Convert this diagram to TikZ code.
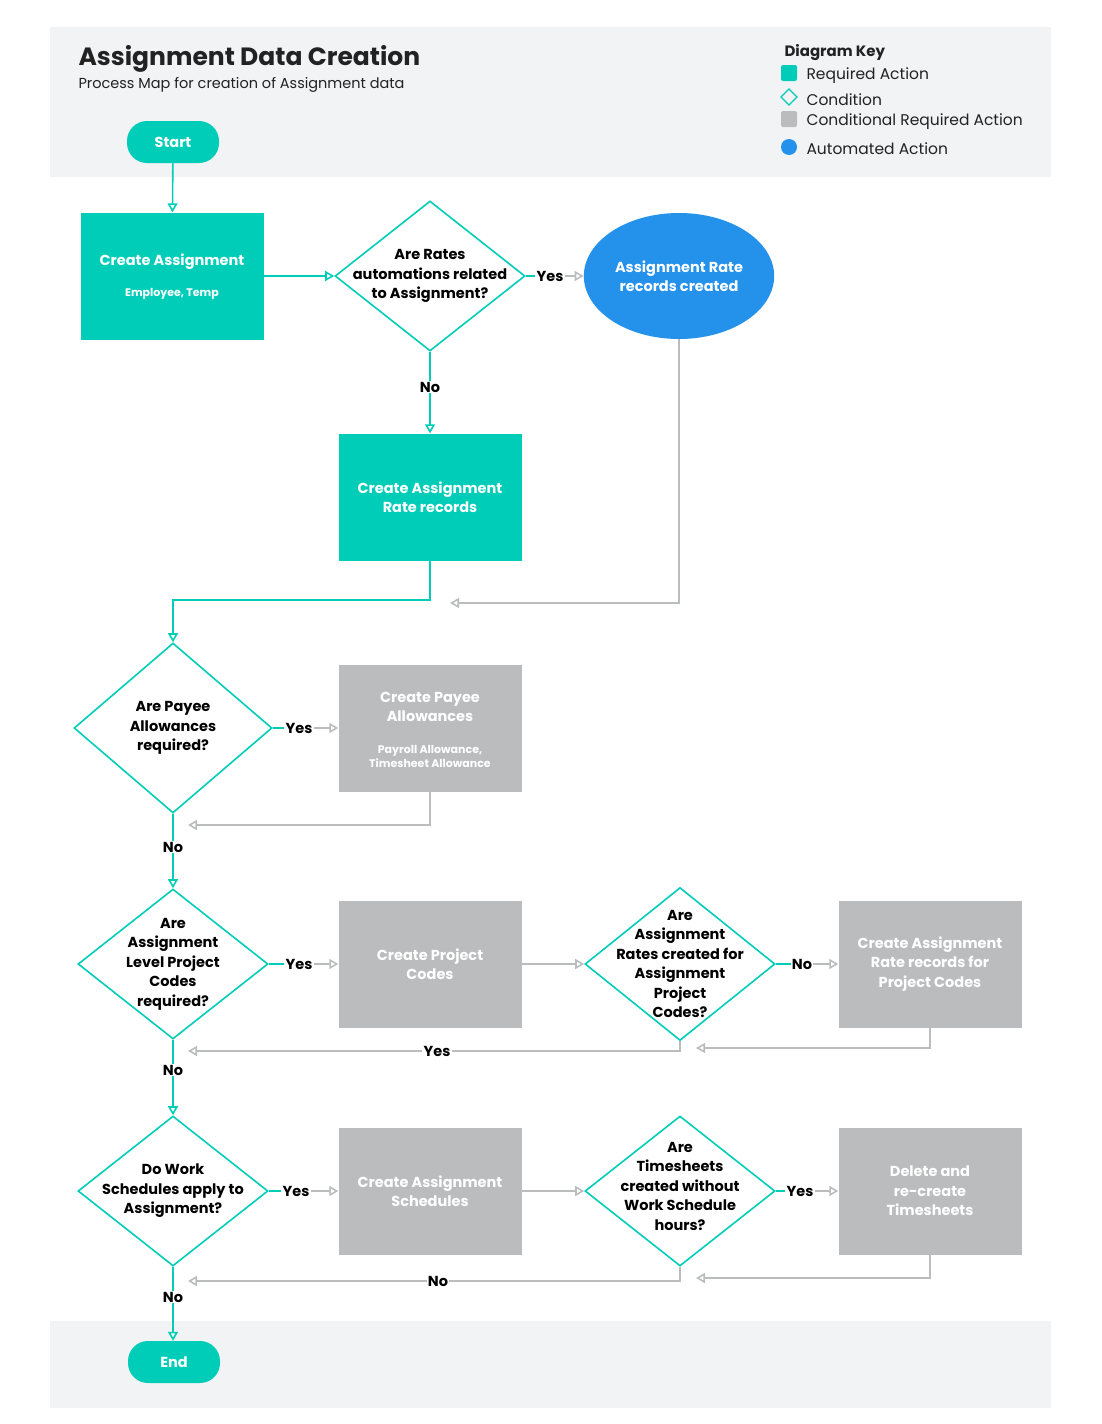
\documentclass[tikz,border=0pt]{standalone}
\usepackage{fontspec}
\setmainfont{Poppins}
\usetikzlibrary{arrows.meta,shapes.geometric}
\definecolor{teal}{HTML}{00CDB8}
\definecolor{grayact}{HTML}{BBBCBE}
\definecolor{bluea}{HTML}{2491EB}
\definecolor{bg}{HTML}{F2F3F5}
\definecolor{txt}{HTML}{222222}
\begin{document}
\begin{tikzpicture}[x=1pt,y=-1pt,
 fs/.style={font=\fontsize{14.5}{19.5}\selectfont\bfseries},
 req/.style={fill=teal,draw=none,minimum width=183pt,minimum height=127pt,text=white,fs,align=center},
 cond/.style={fill=grayact,draw=none,minimum width=183pt,minimum height=127pt,text=white,fs,align=center},
 dia/.style={diamond,draw=teal,line width=1.6pt,fill=white,inner sep=0pt,minimum width=190pt,minimum height=150pt},
 dt/.style={fs,text=black,align=center},
 pill/.style={rounded corners=20pt,fill=teal,text=white,minimum width=92pt,minimum height=42pt,fs},
 tl/.style={draw=teal,line width=1.6pt},
 gl/.style={draw=grayact,line width=1.6pt},
 tar/.style={tl,-{Triangle[open,length=9pt,width=10pt]}},
 gar/.style={gl,-{Triangle[open,length=9pt,width=10pt]}},
 lab/.style={fill=white,inner sep=1pt,fs,text=black}]
\useasboundingbox (0,0) rectangle (1101,1424);
\fill[bg] (50,27) rectangle (1051,177);
\fill[bg] (50,1321) rectangle (1051,1408);
\node[anchor=west,font=\fontsize{25}{28}\selectfont\bfseries,text=txt] at (75,59) {Assignment Data Creation};
\node[anchor=west,font=\fontsize{14.5}{16}\selectfont,text=txt] at (75,85) {Process Map for creation of Assignment data};
\node[anchor=west,font=\fontsize{15}{16}\selectfont\bfseries,text=txt] at (781,53) {Diagram Key};
\fill[teal,rounded corners=2pt] (781,65) rectangle (797,81);
\draw[teal,line width=1.3pt] (789,89)--(797,97)--(789,105)--(781,97)--cycle;
\fill[grayact,rounded corners=2pt] (781,111) rectangle (797,127);
\fill[bluea] (789,147) circle (8);
\foreach \y/\t in {76/Required Action,100/Condition,122/Conditional Required Action,149/Automated Action}
 \node[anchor=west,font=\fontsize{15.5}{17}\selectfont,text=txt] at (803,\y) {\t};
% nodes
\node[pill] (start) at (173,142) {Start};
\node[req] (ca) at (172,276) {};
\node[fs,text=white] at (172,262) {Create Assignment};
\node[font=\fontsize{11}{12}\selectfont\bfseries,text=white] at (172,294) {Employee, Temp};
\node[dia] (d1) at (430,276) {};
\node[dt] at (430,276) {Are Rates\\automations related\\to Assignment?};
\node[ellipse,fill=bluea,minimum width=184pt,minimum height=126pt,text=white,fs,align=center] (ell) at (679,276) {Assignment Rate\\records created};
\node[req] (carr) at (430,497) {Create Assignment\\Rate records};
\node[dia,minimum width=198pt,minimum height=170pt] (d2) at (173,728) {};
\node[dt] at (173,728) {Are Payee\\Allowances\\required?};
\node[cond] (pa) at (430,728) {};
\node[fs,text=white,align=center] at (430,707) {Create Payee\\Allowances};
\node[font=\fontsize{11}{14}\selectfont\bfseries,text=white,align=center] at (430,756) {Payroll Allowance,\\Timesheet Allowance};
\node[dia] (d3) at (173,964) {};
\node[dt] at (173,964) {Are\\Assignment\\Level Project\\Codes\\required?};
\node[cond] (pc) at (430,964) {Create Project\\Codes};
\node[dia,minimum height=153pt] (d4) at (680,964) {};
\node[dt] at (680,964) {Are\\Assignment\\Rates created for\\Assignment\\Project\\Codes?};
\node[cond] (rrpc) at (930,964) {Create Assignment\\Rate records for\\Project Codes};
\node[dia] (d5) at (173,1191) {};
\node[dt] at (173,1191) {Do Work\\Schedules apply to\\Assignment?};
\node[cond] (cas) at (430,1191) {Create Assignment\\Schedules};
\node[dia] (d6) at (680,1191) {};
\node[dt] at (680,1186) {Are\\Timesheets\\created without\\Work Schedule\\hours?};
\node[cond] (dr) at (930,1191) {Delete and\\re-create\\Timesheets};
\node[pill] (end) at (174,1362) {End};
% connectors
\draw[tar] (start) -- (ca);
\draw[tar] (ca) -- (d1);
\node[lab] (y1) at (550,276) {Yes};
\draw[tl] (d1) -- (y1); \draw[gar] (y1) -- (ell);
\node[lab] (n1) at (430,387) {No};
\draw[tl] (d1) -- (n1); \draw[tar] (n1) -- (carr);
\draw[tar] (carr.south) |- (173,600) -- (d2.north);
\coordinate (e1) at (450,603);
\draw[gar] (ell.south) |- (e1);
\node[lab] (y2) at (299,728) {Yes};
\draw[tl] (d2) -- (y2); \draw[gar] (y2) -- (pa);
\coordinate (e2) at (188,825);
\draw[gar] (pa.south) |- (e2);
\node[lab] (n2) at (173,847) {No};
\draw[tl] (d2) -- (n2); \draw[tar] (n2) -- (d3.north);
\node[lab] (y3) at (299,964) {Yes};
\draw[tl] (d3) -- (y3); \draw[gar] (y3) -- (pc);
\draw[gar] (pc) -- (d4);
\node[lab] (n4) at (802,964) {No};
\draw[tl] (d4) -- (n4); \draw[gar] (n4) -- (rrpc);
\coordinate (e3) at (188,1051);
\node[lab] (y4) at (437,1051) {Yes};
\draw[gl] (d4.south) |- (y4); \draw[gar] (y4) -- (e3);
\coordinate (e4) at (696,1048);
\draw[gar] (rrpc.south) |- (e4);
\node[lab] (n3) at (173,1070) {No};
\draw[tl] (d3) -- (n3); \draw[tar] (n3) -- (d5.north);
\node[lab] (y5) at (296,1191) {Yes};
\draw[tl] (d5) -- (y5); \draw[gar] (y5) -- (cas);
\draw[gar] (cas) -- (d6);
\node[lab] (y6) at (800,1191) {Yes};
\draw[tl] (d6) -- (y6); \draw[gar] (y6) -- (dr);
\coordinate (e5) at (188,1281);
\node[lab] (n6) at (438,1281) {No};
\draw[gl] (d6.south) |- (n6); \draw[gar] (n6) -- (e5);
\coordinate (e6) at (696,1278);
\draw[gar] (dr.south) |- (e6);
\node[lab] (n5) at (173,1297) {No};
\draw[tl] (d5) -- (n5); \draw[tar] (n5) -- (n5 |- end.north);
\end{tikzpicture}
\end{document}
